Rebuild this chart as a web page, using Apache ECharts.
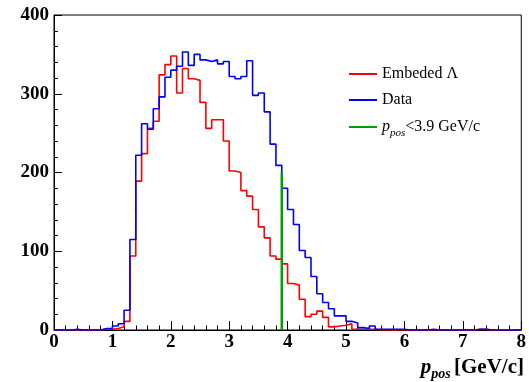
<!DOCTYPE html>
<html><head><meta charset="utf-8">
<script src="https://cdn.jsdelivr.net/npm/echarts@6/dist/echarts.min.js"></script>
<style>html,body{margin:0;padding:0;background:#fff;overflow:hidden}#c{width:529px;height:382px}</style>
</head><body><div id="c"></div>
<script>
// Histogram bins: 80 bins of width 0.1 GeV/c from 0 to 8
const binWidth = 0.1;
const xMin = 0, xMax = 8;
const embeded = [
  0,0,0,0,0,0,0,0,1,1,
  2,4,11,94,189,224,256,265,324,337,
  348,301,332,319,317,289,256,267,267,240,
  202,200,177,170,153,131,117,94,90,84,
  59,57,39,17,20,24,16,4,5,6,
  8,1,1,1,1,0,0,0,0,0,
  0,0,0,0,0,0,0,0,0,0,
  0,0,1,1,0,0,0,0,0,0
];
const dataHist = [
  0,0,0,1,0,0,0,0,2,2,
  5,8,25,115,222,262,255,281,296,321,
  330,335,353,336,350,343,341,343,338,341,
  322,319,322,342,298,301,277,236,209,180,
  153,134,101,92,68,46,35,27,18,18,
  11,9,3,2,5,1,1,1,1,1,
  0,0,0,0,1,0,0,0,0,0,
  0,0,1,1,0,0,0,0,0,0
];
const cutValue = 3.9;
const cutHeight = 200;
const seriesNames = ['Embeded \u039B', 'Data', 'cut'];

function stepData(vals) {
  const pts = vals.map((v, i) => [+(xMin + i * binWidth).toFixed(2), v]);
  pts.push([xMax, vals[vals.length - 1]]);
  return pts;
}

const chart = echarts.init(document.getElementById('c'), null, {renderer: 'canvas', width: 529, height: 382});
const serif = 'Liberation Serif';
const legendBase = {
  orient: 'vertical', left: 349, padding: 0, itemWidth: 28, itemHeight: 2, icon: 'rect',
  textStyle: {fontFamily: serif, fontSize: 16, color: '#000'},
  selectedMode: false
};
chart.setOption({
  animation: false,
  backgroundColor: '#fff',
  grid: {left: 54, right: 3, top: 15, bottom: 52, show: true, borderColor: '#000', borderWidth: 1},
  xAxis: {
    type: 'value', min: xMin, max: xMax, interval: 1,
    axisLine: {show: true, lineStyle: {color: '#000', width: 1}},
    axisTick: {show: true, inside: true, length: 9, lineStyle: {color: '#000'}},
    minorTick: {show: true, splitNumber: 5, length: 4.5, lineStyle: {color: '#000'}},
    splitLine: {show: false},
    axisLabel: {fontFamily: serif, fontWeight: 'bold', fontSize: 19, color: '#000', margin: 3}
  },
  yAxis: {
    type: 'value', min: 0, max: 400, interval: 100,
    axisLine: {show: true, lineStyle: {color: '#000', width: 1}},
    axisTick: {show: true, inside: true, length: 8, lineStyle: {color: '#000'}},
    minorTick: {show: true, splitNumber: 5, length: 4, lineStyle: {color: '#000'}},
    splitLine: {show: false},
    axisLabel: {fontFamily: serif, fontWeight: 'bold', fontSize: 19, color: '#000', margin: 5}
  },
  legend: [
    Object.assign({}, legendBase, {top: 66, data: [seriesNames[0]]}),
    Object.assign({}, legendBase, {top: 92, data: [seriesNames[1]]}),
    Object.assign({}, legendBase, {top: 119, data: [seriesNames[2]],
      formatter: () => '{i|p}{s|pos}{n|<3.9 GeV/c}',
      textStyle: {fontFamily: serif, fontSize: 16, color: '#000',
        rich: {
          i: {fontFamily: serif, fontStyle: 'italic', fontSize: 16, lineHeight: 24, verticalAlign: 'middle'},
          s: {fontFamily: serif, fontStyle: 'italic', fontSize: 11, lineHeight: 12, verticalAlign: 'bottom'},
          n: {fontFamily: serif, fontSize: 16, lineHeight: 24, verticalAlign: 'middle'}
        }}})
  ],
  series: [
    {name: seriesNames[0], type: 'line', step: 'end', symbol: 'none', data: stepData(embeded),
     lineStyle: {color: '#ff0000', width: 1.6}, itemStyle: {color: '#ff0000'}, z: 2},
    {name: seriesNames[1], type: 'line', step: 'end', symbol: 'none', data: stepData(dataHist),
     lineStyle: {color: '#0000ff', width: 1.6}, itemStyle: {color: '#0000ff'}, z: 3},
    {name: seriesNames[2], type: 'line', symbol: 'none', data: [[cutValue, 0], [cutValue, cutHeight]],
     lineStyle: {color: '#00a000', width: 2.5}, itemStyle: {color: '#00a000'}, z: 4}
  ],
  graphic: [{
    type: 'text', right: 5, top: 357,
    style: {
      text: '{i|p}{s|pos} {b|[GeV/c]}',
      rich: {
        i: {fontFamily: serif, fontStyle: 'italic', fontWeight: 'bold', fontSize: 21, lineHeight: 28, verticalAlign: 'middle'},
        s: {fontFamily: serif, fontStyle: 'italic', fontWeight: 'bold', fontSize: 14, lineHeight: 14, verticalAlign: 'bottom'},
        b: {fontFamily: serif, fontWeight: 'bold', fontSize: 21, lineHeight: 28, verticalAlign: 'middle'}
      },
      fill: '#000'
    }
  }]
});
</script></body></html>
